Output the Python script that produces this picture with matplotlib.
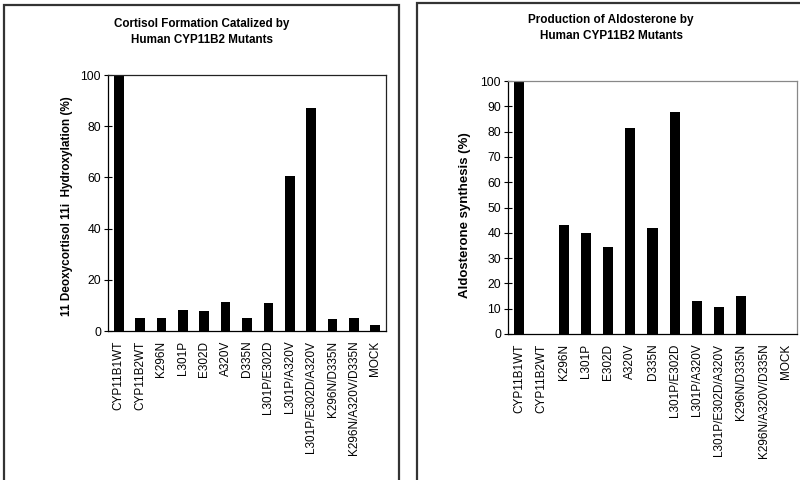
import matplotlib
matplotlib.use('Agg')
import matplotlib.pyplot as plt
from matplotlib.patches import Rectangle

plt.rcParams['font.family'] = ['Liberation Sans', 'DejaVu Sans']

# mutants (same on both charts)
mutants = ['CYP11B1WT', 'CYP11B2WT', 'K296N', 'L301P', 'E302D', 'A320V', 'D335N',
           'L301P/E302D', 'L301P/A320V', 'L301P/E302D/A320V', 'K296N/D335N',
           'K296N/A320V/D335N', 'MOCK']

# left: cortisol formation (%)
cortisol = [100, 5.2, 4.9, 8.1, 7.8, 11.2, 4.9, 10.8, 60.5, 87, 4.7, 4.9, 2.3]
# right: aldosterone synthesis (%)
aldosterone = [100, 0, 43, 39.8, 34.3, 81.3, 41.9, 87.6, 13.2, 10.8, 15, 0, 0]

fig = plt.figure(figsize=(8, 4.8), dpi=100)

# outer chart boxes
fig.patches.append(Rectangle((4/800, -0.02), 395/800, 1 - 5/480 + 0.02,
                             transform=fig.transFigure, fill=False,
                             edgecolor='#333333', linewidth=1.6))
fig.patches.append(Rectangle((417/800, -0.02), 400/800, 1 - 3/480 + 0.02,
                             transform=fig.transFigure, fill=False,
                             edgecolor='#333333', linewidth=1.6))


def draw(ax, vals, ymax, step, spine_col, pad):
    x = range(len(mutants))
    ax.bar(x, vals, width=0.45, color='black')
    ax.set_xlim(-0.5, len(mutants) - 0.5)
    ax.set_ylim(0, ymax)
    ax.set_yticks(range(0, ymax + 1, step))
    ax.set_xticks(list(x))
    ax.set_xticklabels(mutants, rotation=90, fontsize=8.5)
    ax.tick_params(axis='x', length=0, pad=pad)
    ax.tick_params(axis='y', direction='inout', length=6, width=0.8, labelsize=8.8, pad=2)
    ax.spines['left'].set_color('black')
    ax.spines['bottom'].set_color('black')
    ax.spines['top'].set_color(spine_col)
    ax.spines['right'].set_color(spine_col)
    for s in ax.spines.values():
        s.set_linewidth(0.9)


ax1 = fig.add_axes([108/800, 1 - 331/480, 278/800, 256/480])
draw(ax1, cortisol, 100, 20, '#222222', 7)
fig.text(202/800, 1 - 24/480, 'Cortisol Formation Catalized by', ha='center', va='center',
         fontsize=8.4, fontweight='bold')
fig.text(202/800, 1 - 40/480, 'Human CYP11B2 Mutants', ha='center', va='center',
         fontsize=8.4, fontweight='bold')
fig.text(67/800, 1 - 206/480, '11 Deoxycortisol 11i  Hydroxylation (%)', rotation=90,
         ha='center', va='center', fontsize=8.5, fontweight='bold')

ax2 = fig.add_axes([508/800, 1 - 334/480, 289/800, 253/480])
draw(ax2, aldosterone, 100, 10, '#888888', 7)
fig.text(611/800, 1 - 20/480, 'Production of Aldosterone by', ha='center', va='center',
         fontsize=8.5, fontweight='bold')
fig.text(611/800, 1 - 36/480, 'Human CYP11B2 Mutants', ha='center', va='center',
         fontsize=8.5, fontweight='bold')
fig.text(465/800, 1 - 215/480, 'Aldosterone synthesis (%)', rotation=90,
         ha='center', va='center', fontsize=9.5, fontweight='bold')

fig.savefig('out.png', dpi=100)
